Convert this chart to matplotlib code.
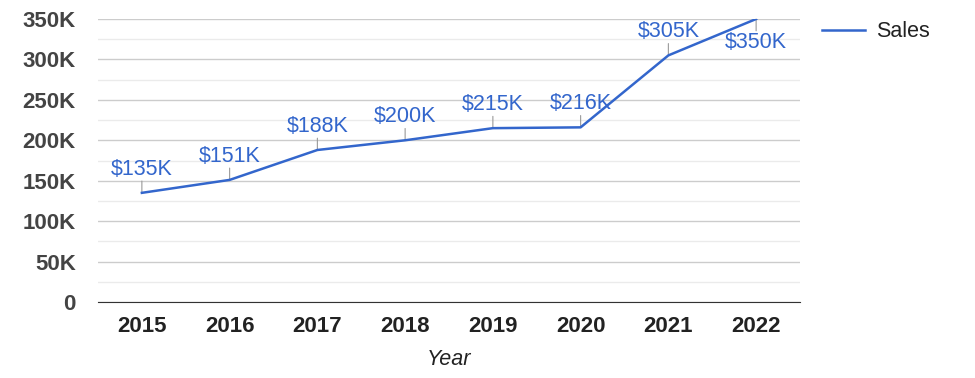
import matplotlib.pyplot as plt
from matplotlib.ticker import MultipleLocator, FuncFormatter

plt.rcParams['font.family'] = ['Liberation Sans', 'DejaVu Sans']

years = ['2015', '2016', '2017', '2018', '2019', '2020', '2021', '2022']
sales = [135, 151, 188, 200, 215, 216, 305, 350]  # thousands of $
labels_below = ['2022']

blue = '#3366CC'

fig = plt.figure(figsize=(9.75, 3.78), dpi=100)
ax = fig.add_axes([98 / 975, 76 / 378, 702 / 975, 283 / 378])

x = list(range(len(years)))
ax.plot(x, sales, color=blue, lw=1.8, label='Sales', zorder=3)

for xi, yr, v in zip(x, years, sales):
    below = yr in labels_below
    sign = -1 if below else 1
    # short grey leader from the point to its label
    ax.annotate('', xy=(xi, v), xytext=(0, sign * 8.5), textcoords='offset points',
                arrowprops=dict(arrowstyle='-', color='#999999', lw=0.8,
                                shrinkA=0, shrinkB=0), zorder=2)
    ax.annotate('${:d}K'.format(v), xy=(xi, v), xytext=(0, sign * 9.5),
                textcoords='offset points', ha='center',
                va='top' if below else 'bottom', color=blue, fontsize=15.5, zorder=4)

ax.set_xlim(-0.5, len(years) - 0.5)
ax.set_ylim(0, 350)
ax.set_xticks(x)
ax.set_xticklabels(years, fontsize=16, fontweight='bold', color='#222222')
ax.yaxis.set_major_locator(MultipleLocator(50))
ax.yaxis.set_minor_locator(MultipleLocator(25))
ax.yaxis.set_major_formatter(FuncFormatter(lambda v, p: '0' if v == 0 else '{:d}K'.format(int(v))))
for t in ax.get_yticklabels():
    t.set_fontsize(16)
    t.set_fontweight('bold')
    t.set_color('#444444')

ax.grid(axis='y', which='major', color='#cccccc', lw=1)
ax.grid(axis='y', which='minor', color='#ebebeb', lw=1)
ax.set_axisbelow(True)
ax.tick_params(axis='both', which='both', length=0)
ax.tick_params(axis='y', pad=16)
ax.tick_params(axis='x', pad=10)
for s in ['top', 'right', 'left']:
    ax.spines[s].set_visible(False)
ax.spines['bottom'].set_color('#333333')

ax.set_xlabel('Year', fontsize=15.5, fontstyle='italic', color='#222222', labelpad=9)

ax.legend(loc='upper left', bbox_to_anchor=(1.004, 1.06), frameon=False,
          fontsize=15.5, handlelength=2.0, handletextpad=0.5, labelcolor='#222222')

plt.savefig('out.png', dpi=100)
plt.close()
